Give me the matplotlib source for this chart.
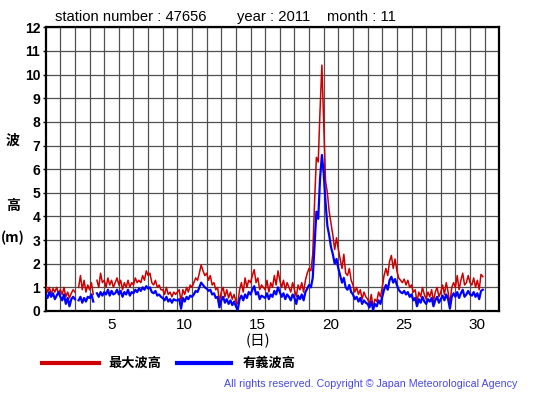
import numpy as np
import matplotlib
matplotlib.use("Agg")
import matplotlib.pyplot as plt

nan = np.nan
# 3-hourly values for November 2011 (8 per day), station 47656
sig_wave = [  # 有義波高 (m)
    0.7, 0.55, 0.8, 0.6, 0.75, 0.5, 0.65, 0.8,
    0.6, 0.45, 0.7, 0.3, 0.55, 0.2, 0.5, 0.6,
    0.5, nan, 0.45, 0.6, 0.35, 0.55, 0.4, 0.6,
    0.55, 0.7, 0.4, nan, 0.75, 0.6, 0.8, 0.65,
    0.8, 0.7, 0.9, 0.65, 0.85, 0.7, 0.75, 0.9,
    0.7, 0.85, 0.6, 0.8, 0.7, 0.9, 0.65, 0.8,
    0.75, 0.9, 0.8, 0.95, 0.85, 1.0, 0.9, 1.05,
    0.95, 1.0, 0.8, 0.75, 0.85, 0.65, 0.7, 0.6,
    0.55, 0.45, 0.6, 0.4, 0.5, 0.35, 0.5, 0.45,
    0.45, 0.5, 0.1, 0.55, 0.4, 0.6, 0.5, 0.65,
    0.6, 0.7, 0.85, 0.8, 1.0, 1.2, 1.1, 1.0,
    0.95, 0.85, 0.9, 0.7, 0.75, 0.55, 0.6, 0.15,
    0.45, 0.6, 0.35, 0.5, 0.3, 0.45, 0.25, 0.4,
    0.2, 0.05, 0.5, 0.65, 0.45, 0.7, 0.55, 0.8,
    0.7, 0.9, 1.05, 0.7, 0.8, 0.5, 0.65, 0.6,
    0.55, 0.75, 0.5, 0.7, 0.6, 0.85, 0.7, 1.0,
    0.8, 0.6, 0.75, 0.5, 0.7, 0.6, 0.45, 0.7,
    0.55, 0.3, 0.65, 0.5, 0.7, 0.45, 0.8, 0.95,
    1.1, 1.0, 1.4, 2.8, 4.2, 3.9, 5.6, 6.6,
    5.8, 4.6, 3.6, 3.2, 2.7, 2.4, 2.0, 2.2,
    1.8, 1.5, 1.2, 1.4, 1.0, 0.9, 1.1, 0.8,
    0.7, 0.5, 0.6, 0.4, 0.55, 0.3, 0.45, 0.35,
    0.3, 0.15, 0.4, 0.05, 0.3, 0.2, 0.45, 0.3,
    0.6, 0.9, 1.1, 0.9, 1.3, 1.45, 1.2, 1.35,
    1.1, 0.9, 0.8, 0.75, 0.85, 0.7, 0.8, 0.6,
    0.7, 0.45, 0.55, 0.2, 0.5, 0.35, 0.6, 0.4,
    0.3, 0.5, 0.4, 0.55, 0.2, 0.45, 0.6, 0.35,
    0.5, 0.65, 0.45, 0.7, 0.5, 0.1, 0.6, 0.75,
    0.6, 0.8, 0.55, 0.75, 0.9, 0.6, 0.7, 0.85,
    0.7, 0.65, 0.8, 0.6, 0.75, 0.5, 0.85, 0.9,
]
max_wave = [  # 最大波高 (m)
    1.1, 0.8, 1.0, 0.7, 0.95, 0.8, 1.0, 0.75,
    0.9, 0.7, 1.0, 0.6, 0.8, 0.55, 0.75, 0.9,
    0.8, nan, 1.0, 1.5, 0.9, 1.3, 0.8, 1.1,
    0.9, 1.2, 0.7, nan, 1.3, 1.0, 1.6, 1.2,
    1.3, 1.0, 1.4, 1.1, 1.3, 1.0, 1.2, 1.4,
    1.1, 1.3, 0.9, 1.2, 1.0, 1.3, 1.0, 1.2,
    1.1, 1.4, 1.2, 1.3, 1.2, 1.5, 1.3, 1.7,
    1.5, 1.6, 1.2, 1.1, 1.3, 1.0, 1.1, 0.9,
    0.9, 0.7, 1.0, 0.7, 0.8, 0.6, 0.8, 0.7,
    0.8, 0.9, 0.4, 0.9, 0.7, 1.0, 0.8, 1.1,
    1.0, 1.2, 1.4, 1.3, 1.6, 1.95, 1.7, 1.5,
    1.6, 1.3, 1.5, 1.1, 1.2, 0.9, 1.0, 0.4,
    0.8, 1.0, 0.6, 0.9, 0.55, 0.8, 0.5, 0.7,
    0.4, 0.3, 0.9, 1.2, 0.8, 1.4, 1.0, 1.3,
    1.2, 1.5, 1.75, 1.2, 1.4, 0.9, 1.1, 1.0,
    0.9, 1.3, 0.8, 1.2, 1.0, 1.5, 1.1, 1.7,
    1.3, 1.0, 1.3, 0.9, 1.2, 1.0, 0.8, 1.2,
    0.9, 0.6, 1.1, 0.9, 1.2, 0.8, 1.3, 1.6,
    1.8, 1.7, 2.4, 4.6, 6.5, 6.3, 8.5, 10.4,
    8.0, 5.5, 5.0, 4.2, 3.7, 3.2, 2.6, 3.1,
    2.6, 2.2, 1.8, 2.4, 1.6, 1.5, 1.8, 1.3,
    1.1, 0.8, 1.0, 0.7, 0.9, 0.5, 0.8, 0.6,
    0.5, 0.3, 0.7, 0.15, 0.5, 0.4, 0.8, 0.6,
    1.0, 1.5, 1.8, 1.5, 2.1, 2.35, 1.8, 2.2,
    1.7, 1.4, 1.3, 1.2, 1.35, 1.1, 1.3, 1.0,
    1.1, 0.8, 0.9, 0.4, 0.8, 0.6, 1.0, 0.7,
    0.5, 0.8, 0.6, 0.9, 0.4, 0.8, 1.0, 0.6,
    0.8, 1.1, 0.7, 1.2, 0.8, 0.3, 1.0, 1.2,
    1.0, 1.5, 0.9, 1.3, 1.6, 1.1, 1.2, 1.5,
    1.2, 1.1, 1.4, 1.0, 1.3, 0.9, 1.55, 1.45,
]
x_ticks = [5, 10, 15, 20, 25, 30]
y_ticks = list(range(0, 13))

days = 30
steps_per_day = 8
t = np.arange(days * steps_per_day) / steps_per_day + 0.5

W, H = 555, 395
fig = plt.figure(figsize=(W / 100, H / 100), dpi=100)
fig.patch.set_facecolor("white")

def fx(px):
    return px / W

def fy(py):
    return 1 - py / H

left, right, top, bottom = 45.7, 499.3, 27.3, 311.0
ax = fig.add_axes([fx(left), fy(bottom), (right - left) / W, (bottom - top) / H])

ax.plot(t, max_wave, color="#cc0000", lw=1.1, zorder=3)
ax.plot(t, sig_wave, color="#0000ff", lw=1.6, zorder=4)

ax.set_xlim(0.5, 31.5)
ax.set_ylim(0, 12)
ax.set_xticks(np.arange(1.5, 31, 1.0), minor=True)
ax.set_xticks(x_ticks)
ax.set_xticklabels([str(v) for v in x_ticks], fontsize=11, family="Liberation Sans")
ax.set_yticks(y_ticks)
ax.set_yticklabels([str(v) for v in y_ticks], fontsize=10, fontweight="bold",
                   family="Liberation Sans")
ax.tick_params(axis="x", which="both", length=0, pad=5)
ax.tick_params(axis="y", length=2, pad=2, width=1)
ax.grid(True, which="minor", axis="x", color="#505050", lw=0.9)
ax.grid(True, which="major", axis="y", color="#505050", lw=0.9)
ax.set_axisbelow(True)
for s in ax.spines.values():
    s.set_color("black")
    s.set_linewidth(1.6)

# title texts
tfont = dict(fontsize=10.6, family="Liberation Sans", va="center", ha="left")
fig.text(fx(55), fy(17), "station number : 47656", **tfont)
fig.text(fx(237), fy(17), "year : 2011", **tfont)
fig.text(fx(327), fy(17), "month : 11", **tfont)

# y axis label
jfont = ["Noto Sans CJK JP", "DejaVu Sans"]
fig.text(fx(13), fy(141), "波", fontsize=10, fontweight="bold", family=jfont, ha="center", va="center")
fig.text(fx(13), fy(206), "高", fontsize=10, fontweight="bold", family=jfont, ha="center", va="center")
fig.text(fx(13), fy(238), "(m)", fontsize=10, fontweight="bold", family=jfont, ha="center", va="center")

# x axis label
fig.text(fx(258), fy(341), "(日)", fontsize=10.5, family=jfont, ha="center", va="center")

# legend
fig.add_artist(plt.Line2D([fx(42), fx(99)], [fy(363), fy(363)], color="#cc0000", lw=3))
fig.text(fx(108), fy(363), "最大波高", fontsize=9.5, fontweight="bold", family=jfont, ha="left", va="center")
fig.add_artist(plt.Line2D([fx(177), fx(231)], [fy(363), fy(363)], color="#0000ff", lw=3))
fig.text(fx(243), fy(363), "有義波高", fontsize=9.5, fontweight="bold", family=jfont, ha="left", va="center")

fig.text(fx(517), fy(384), "All rights reserved. Copyright © Japan Meteorological Agency",
         fontsize=7.7, color="#4848e0", family="Liberation Sans", ha="right", va="center")

fig.savefig("out.png", dpi=100, facecolor="white")
